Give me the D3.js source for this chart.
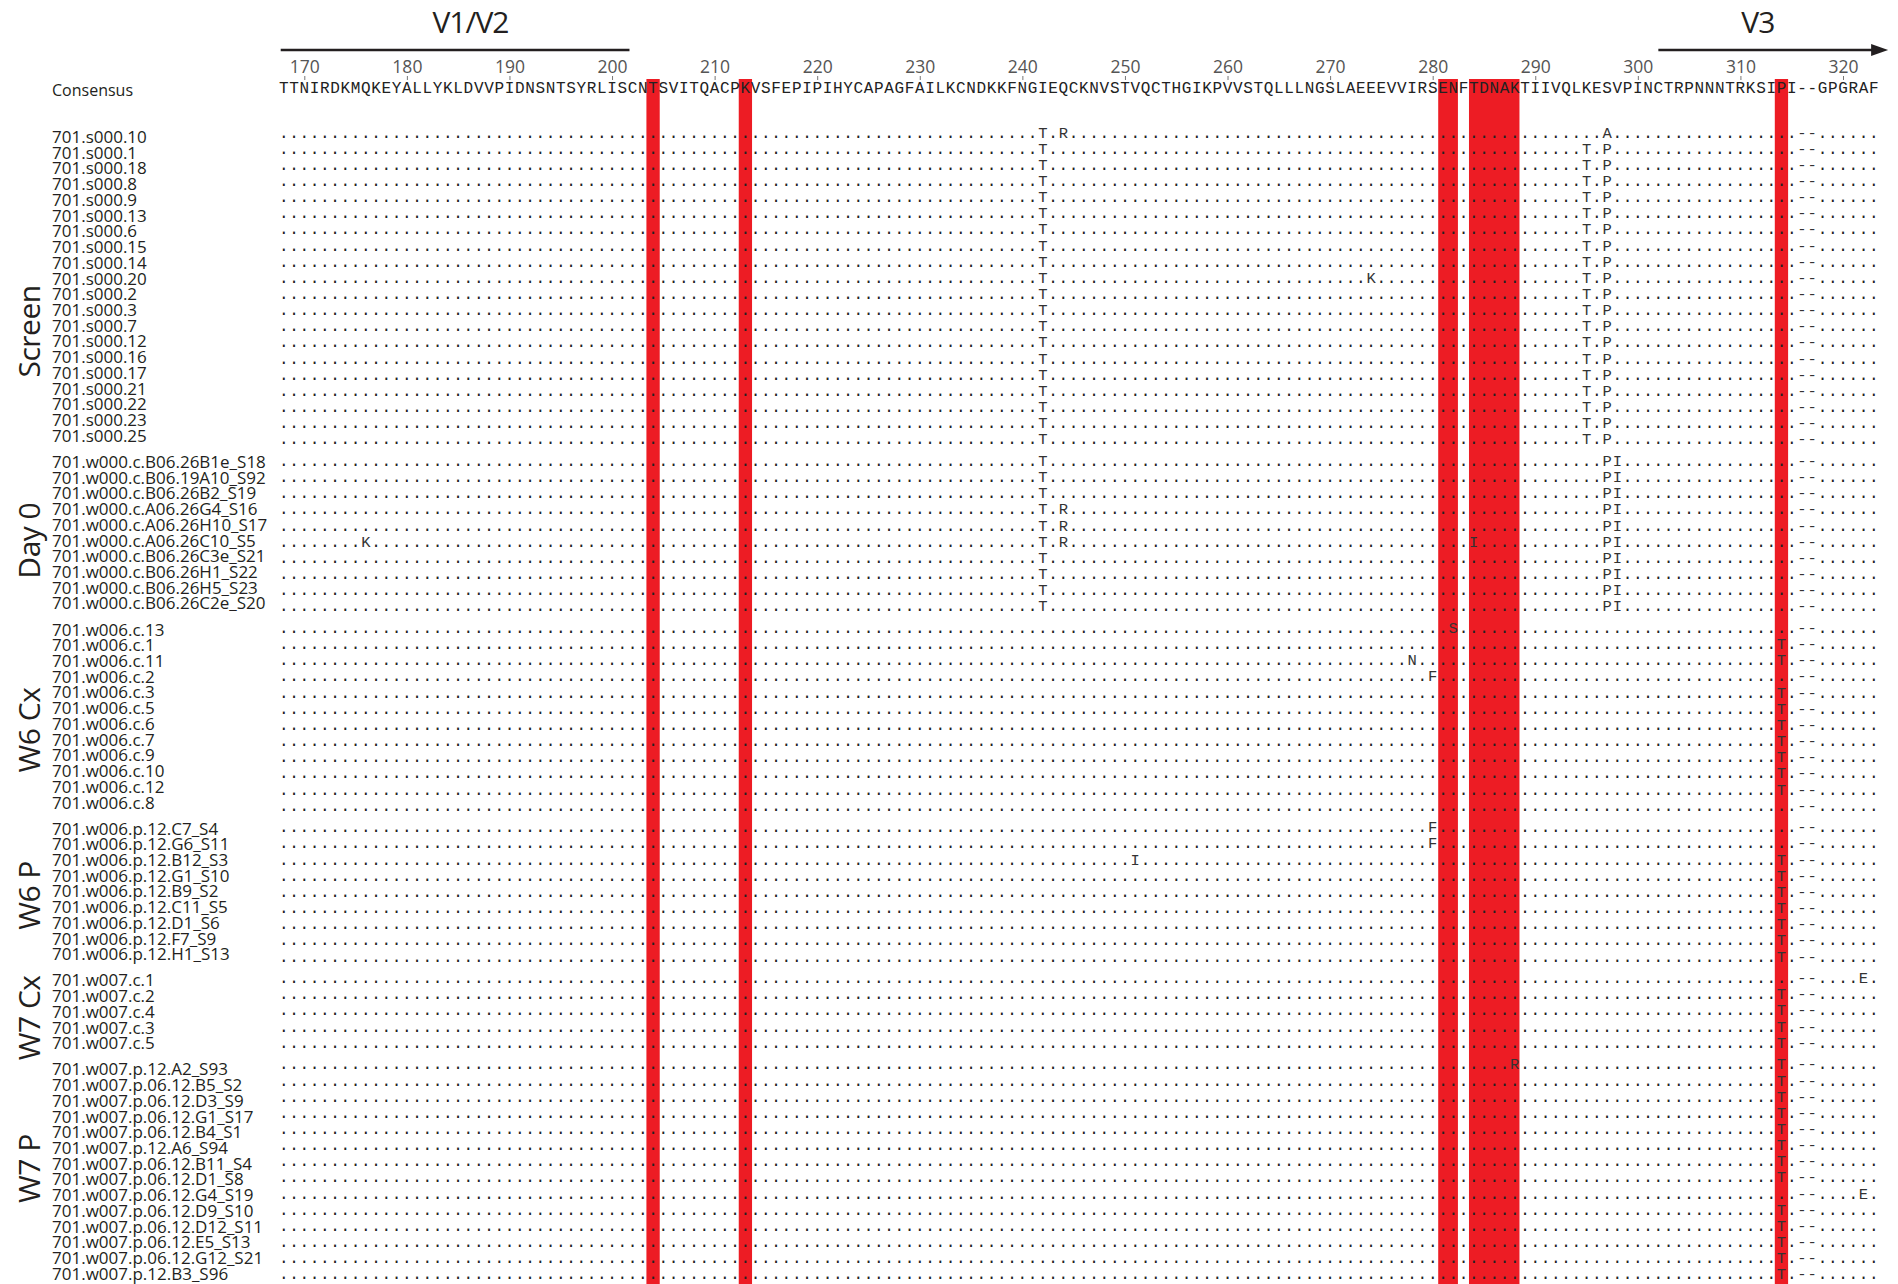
<!DOCTYPE html>
<html>
<head>
<meta charset="utf-8">
<script src="https://cdn.jsdelivr.net/npm/d3@7"></script>
<style>
  body { margin: 0; background: #fff; }
</style>
</head>
<body>
<div id="chart-area"></div>
<script>
// alignment data, HXB2-style numbering starting at 168
var posStart = 168;
var consensus = "TTNIRDKMQKEYALLYKLDVVPIDNSNTSYRLISCNTSVITQACPKVSFEPIPIHYCAPAGFAILKCNDKKFNGIEQCKNVSTVQCTHGIKPVVSTQLLLNGSLAEEEVVIRSENFTDNAKTIIVQLKESVPINCTRPNNNTRKSIPI--GPGRAF";
var tickValues = [170, 180, 190, 200, 210, 220, 230, 240, 250, 260, 270, 280, 290, 300, 310, 320];

// highlighted columns (from, to)
var highlights = [[204, 204], [213, 213], [281, 282], [284, 288], [314, 314]];

// variable regions: line from/to (residue), label residue
var regionNames = ["V1/V2", "V3"];
var regionFrom = [167.7, 302];
var regionTo = [201.7, 324.4];
var regionLabelAt = [186.2, 311.7];
var regionArrow = [false, true];

var groupNames = ["Screen", "Day 0", "W6 Cx", "W6 P", "W7 Cx", "W7 P"];
var groupLabelNudge = [45, 8, 14, 4, 6, -3];

var screenNames = ["701.s000.10", "701.s000.1", "701.s000.18", "701.s000.8", "701.s000.9", "701.s000.13",
  "701.s000.6", "701.s000.15", "701.s000.14", "701.s000.20", "701.s000.2", "701.s000.3", "701.s000.7",
  "701.s000.12", "701.s000.16", "701.s000.17", "701.s000.21", "701.s000.22", "701.s000.23", "701.s000.25"];
var screenMuts = ["242T 244R 297A", "242T 295T 297P", "242T 295T 297P", "242T 295T 297P", "242T 295T 297P",
  "242T 295T 297P", "242T 295T 297P", "242T 295T 297P", "242T 295T 297P", "242T 274K 295T 297P",
  "242T 295T 297P", "242T 295T 297P", "242T 295T 297P", "242T 295T 297P", "242T 295T 297P",
  "242T 295T 297P", "242T 295T 297P", "242T 295T 297P", "242T 295T 297P", "242T 295T 297P"];

var day0Names = ["701.w000.c.B06.26B1e_S18", "701.w000.c.B06.19A10_S92", "701.w000.c.B06.26B2_S19",
  "701.w000.c.A06.26G4_S16", "701.w000.c.A06.26H10_S17", "701.w000.c.A06.26C10_S5",
  "701.w000.c.B06.26C3e_S21", "701.w000.c.B06.26H1_S22", "701.w000.c.B06.26H5_S23", "701.w000.c.B06.26C2e_S20"];
var day0Muts = ["242T 297P 298I", "242T 297P 298I", "242T 297P 298I", "242T 244R 297P 298I",
  "242T 244R 297P 298I", "176K 242T 244R 284I 297P 298I", "242T 297P 298I", "242T 297P 298I",
  "242T 297P 298I", "242T 297P 298I"];

var w6cxNames = ["701.w006.c.13", "701.w006.c.1", "701.w006.c.11", "701.w006.c.2", "701.w006.c.3",
  "701.w006.c.5", "701.w006.c.6", "701.w006.c.7", "701.w006.c.9", "701.w006.c.10", "701.w006.c.12", "701.w006.c.8"];
var w6cxMuts = ["282S", "314T", "278N 314T", "280F", "314T", "314T", "314T", "314T", "314T", "314T", "314T", ""];

var w6pNames = ["701.w006.p.12.C7_S4", "701.w006.p.12.G6_S11", "701.w006.p.12.B12_S3", "701.w006.p.12.G1_S10",
  "701.w006.p.12.B9_S2", "701.w006.p.12.C11_S5", "701.w006.p.12.D1_S6", "701.w006.p.12.F7_S9", "701.w006.p.12.H1_S13"];
var w6pMuts = ["280F", "280F", "251I 314T", "314T", "314T", "314T", "314T", "314T", "314T"];

var w7cxNames = ["701.w007.c.1", "701.w007.c.2", "701.w007.c.4", "701.w007.c.3", "701.w007.c.5"];
var w7cxMuts = ["322E", "314T", "314T", "314T", "314T"];

var w7pNames = ["701.w007.p.12.A2_S93", "701.w007.p.06.12.B5_S2", "701.w007.p.06.12.D3_S9",
  "701.w007.p.06.12.G1_S17", "701.w007.p.06.12.B4_S1", "701.w007.p.12.A6_S94", "701.w007.p.06.12.B11_S4",
  "701.w007.p.06.12.D1_S8", "701.w007.p.06.12.G4_S19", "701.w007.p.06.12.D9_S10", "701.w007.p.06.12.D12_S11",
  "701.w007.p.06.12.E5_S13", "701.w007.p.06.12.G12_S21", "701.w007.p.12.B3_S96"];
var w7pMuts = ["288R 314T", "314T", "314T", "314T", "314T", "314T", "314T", "314T", "322E",
  "314T", "314T", "314T", "314T", "314T"];

var groupRows = [[screenNames, screenMuts], [day0Names, day0Muts], [w6cxNames, w6cxMuts],
  [w6pNames, w6pMuts], [w7cxNames, w7cxMuts], [w7pNames, w7pMuts]];

var W = 1898, H = 1284;
var monoFont = "'Liberation Mono', 'Courier New', monospace";
var sansFont = "'Open Sans', 'Noto Sans', sans-serif";

var svg = d3.select("#chart-area")
  .append("svg")
  .attr("width", W)
  .attr("height", H)
  .style("background", "#fff");

var x = d3.scaleLinear().domain([170, 320]).range([304.3, 1843]);
var resW = x(171) - x(170);
var positions = d3.range(posStart, posStart + consensus.length);

// rows flattened
var rows = [];
groupRows.forEach(function(gr, g) {
  gr[0].forEach(function(name, i) {
    var m = {};
    gr[1][i].split(" ").filter(function(s) { return s; }).forEach(function(s) {
      m[+s.slice(0, -1)] = s.slice(-1);
    });
    rows.push({ name: name, muts: m, g: g, r: rows.length });
  });
});

var labelY = function(d) { return 137 + d.r * 15.73 + d.g * 10.3; };
var seqY = function(d) { return 137.5 + d.r * 16.15 + d.g * 5.5; };
var barW = function(d) { return Math.max(x(d[1]) - x(d[0]) + resW - 0.8, 13.3); };

// red columns
svg.selectAll("rect.hl")
  .data(highlights)
  .enter()
  .append("rect")
  .attr("class", "hl")
  .attr("x", function(d) { return (x(d[0]) + x(d[1])) / 2 - barW(d) / 2; })
  .attr("width", barW)
  .attr("y", 79)
  .attr("height", H - 79)
  .attr("fill", "#ed1c24");

// region lines + labels
regionNames.forEach(function(name, i) {
  svg.append("line")
    .attr("x1", x(regionFrom[i]))
    .attr("x2", x(regionTo[i]) - (regionArrow[i] ? 12 : 0))
    .attr("y1", 50).attr("y2", 50)
    .attr("stroke", "#231f20")
    .attr("stroke-width", 2.6);
  if (regionArrow[i]) {
    var tx = x(regionTo[i]);
    svg.append("path")
      .attr("d", "M" + tx + ",50 L" + (tx - 17) + ",44 L" + (tx - 17) + ",56 Z")
      .attr("fill", "#231f20");
  }
  svg.append("text")
    .attr("x", x(regionLabelAt[i]))
    .attr("y", 33)
    .attr("text-anchor", "middle")
    .style("font-family", sansFont)
    .style("font-size", "30px")
    .style("letter-spacing", "-1px")
    .attr("fill", "#231f20")
    .text(name);
});

// position axis
var axis = d3.axisTop(x).tickValues(tickValues).tickSize(4).tickPadding(3);
var ax = svg.append("g").attr("transform", "translate(0,80)").call(axis);
ax.select(".domain").remove();
ax.selectAll("line").attr("stroke", "#777");
ax.selectAll("text")
  .style("font-family", sansFont)
  .style("font-size", "17.5px")
  .attr("fill", "#555");

// consensus
svg.append("text")
  .attr("x", 52).attr("y", 96)
  .style("font-family", sansFont)
  .style("font-size", "16px")
  .attr("fill", "#231f20")
  .text("Consensus");

svg.append("g").selectAll("text")
  .data(positions)
  .enter()
  .append("text")
  .attr("x", function(p) { return x(p); })
  .attr("y", 93)
  .attr("text-anchor", "middle")
  .style("font-family", monoFont)
  .style("font-size", "16px")
  .attr("fill", "#222")
  .text(function(p) { return consensus[p - posStart]; });

// sequence names
svg.append("g").selectAll("text")
  .data(rows)
  .enter()
  .append("text")
  .attr("x", 52)
  .attr("y", function(d) { return labelY(d) + 6; })
  .style("font-family", sansFont)
  .style("font-size", "17px")
  .attr("fill", "#231f20")
  .text(function(d) { return d.name; });

// aligned residues
var rowG = svg.append("g").selectAll("g")
  .data(rows)
  .enter()
  .append("g")
  .attr("transform", function(d) { return "translate(0," + seqY(d) + ")"; });

rowG.selectAll("text")
  .data(function(d) {
    return positions.map(function(p) {
      var c = consensus[p - posStart];
      var aa = d.muts[p] ? d.muts[p] : (c === "-" ? "-" : ".");
      return { p: p, aa: aa };
    });
  })
  .enter()
  .append("text")
  .attr("x", function(d) { return x(d.p); })
  .attr("y", 0)
  .attr("text-anchor", "middle")
  .style("font-family", monoFont)
  .style("font-size", function(d) { return d.aa === "." ? "16px" : "15.5px"; })
  .attr("fill", function(d) { return d.aa === "." ? "#222" : "#333"; })
  .text(function(d) { return d.aa; });

// group labels
groupNames.forEach(function(name, g) {
  var gr = rows.filter(function(d) { return d.g === g; });
  var cy = (labelY(gr[0]) + labelY(gr[gr.length - 1])) / 2 + groupLabelNudge[g];
  svg.append("text")
    .attr("transform", "translate(28," + cy + ") rotate(-90)")
    .attr("text-anchor", "middle")
    .attr("dominant-baseline", "central")
    .style("font-family", sansFont)
    .style("font-size", "30px")
    .style("letter-spacing", "-0.5px")
    .attr("fill", "#231f20")
    .text(name);
});
</script>
</body>
</html>
